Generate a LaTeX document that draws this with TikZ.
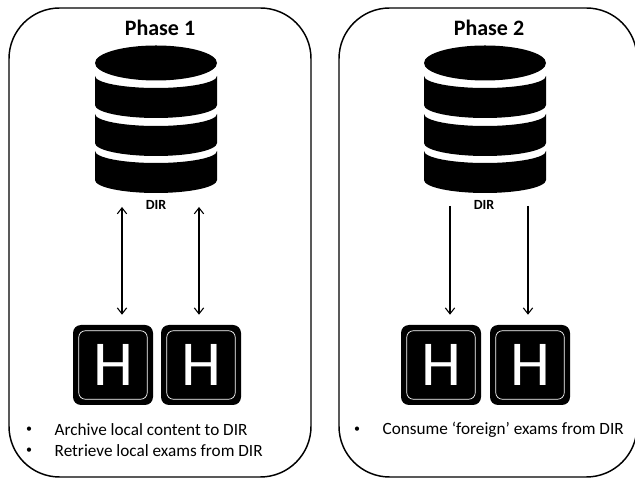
\documentclass[tikz,border=0pt]{standalone}
\usepackage{fontspec}
\setmainfont{Carlito}
\usetikzlibrary{arrows.meta}
\tikzset{
    panelbox/.style={draw, line width=1.1pt, rounded corners=38pt},
    keybox/.style={fill=black, rounded corners=6pt, minimum size=60pt, inner sep=0pt, text=white, font=\fontsize{48}{48}\selectfont},
    keyrim/.style={draw=white, line width=.5pt, rounded corners=5pt},
    title/.style={font=\fontsize{16.5}{17}\selectfont\bfseries},
    dirlabel/.style={font=\fontsize{10.5}{11}\selectfont\bfseries},
    note/.style={font=\fontsize{12.9}{14}\selectfont, anchor=west},
    dot/.style={font=\fontsize{9}{10}\selectfont},
    link/.style={line width=.8pt},
}
\begin{document}
\begin{tikzpicture}[>={Straight Barb[length=4.5pt, width=7pt]}, x=.75pt, y=.75pt]
\useasboundingbox (0,0) rectangle (635,478);
\fill[white] (0,0) rectangle (635,478);

\begin{scope}
    \draw[panelbox] (9,1) rectangle (311,470);
    \node[title] (titlea) at (160,450){Phase 1};
    \fill (156,415) ellipse [x radius=61, y radius=17.5];
    \foreach \y in {402,364,327}
        \fill (95,\y) arc[start angle=180, end angle=360, x radius=61, y radius=12] -- ++(0,-29) arc[start angle=0, end angle=-180, x radius=61, y radius=13] -- cycle;
    \node[dirlabel] (dira) at (156,273){DIR};
    \node[keybox] (keya) at (113,113){H};
    \node[keybox] (keyb) at (201,113){H};
    \foreach \k in {keya,keyb}
        \draw[keyrim] ([shift={(6,6)}]\k.south west) rectangle ([shift={(-6,-6)}]\k.north east);
    \coordinate (enda) at (122,271);
    \coordinate (endb) at (199,271);
    \draw[link, <->, shorten >=7.5pt] (enda) -- (enda |- keya.north);
    \draw[link, <->, shorten >=7.5pt] (endb) -- (endb |- keyb.north);
    \node[dot] (bula) at (29,48){•};
    \node[note] (notea) at (50,48){Archive local content to DIR};
    \node[dot] (bulb) at (29,27){•};
    \node[note] (noteb) at (50,27){Retrieve local exams from DIR};
\end{scope}

\begin{scope}
    \draw[panelbox] (339,1) rectangle (637,470);
    \node[title] (titleb) at (489,450){Phase 2};
    \fill (485,415) ellipse [x radius=61, y radius=17.5];
    \foreach \y in {402,364,327}
        \fill (424,\y) arc[start angle=180, end angle=360, x radius=61, y radius=12] -- ++(0,-29) arc[start angle=0, end angle=-180, x radius=61, y radius=13] -- cycle;
    \node[dirlabel] (dirb) at (484,273){DIR};
    \node[keybox] (keyc) at (441,113){H};
    \node[keybox] (keyd) at (530,113){H};
    \foreach \k in {keyc,keyd}
        \draw[keyrim] ([shift={(6,6)}]\k.south west) rectangle ([shift={(-6,-6)}]\k.north east);
    \coordinate (endc) at (450,272);
    \coordinate (endd) at (528,272);
    \draw[link, ->, shorten >=7.5pt] (endc) -- (endc |- keyc.north);
    \draw[link, ->, shorten >=7.5pt] (endd) -- (endd |- keyd.north);
    \node[dot] (bulc) at (357,48){•};
    \node[note] (notec) at (378,48){Consume ‘foreign’ exams from DIR};
\end{scope}
\end{tikzpicture}
\end{document}
